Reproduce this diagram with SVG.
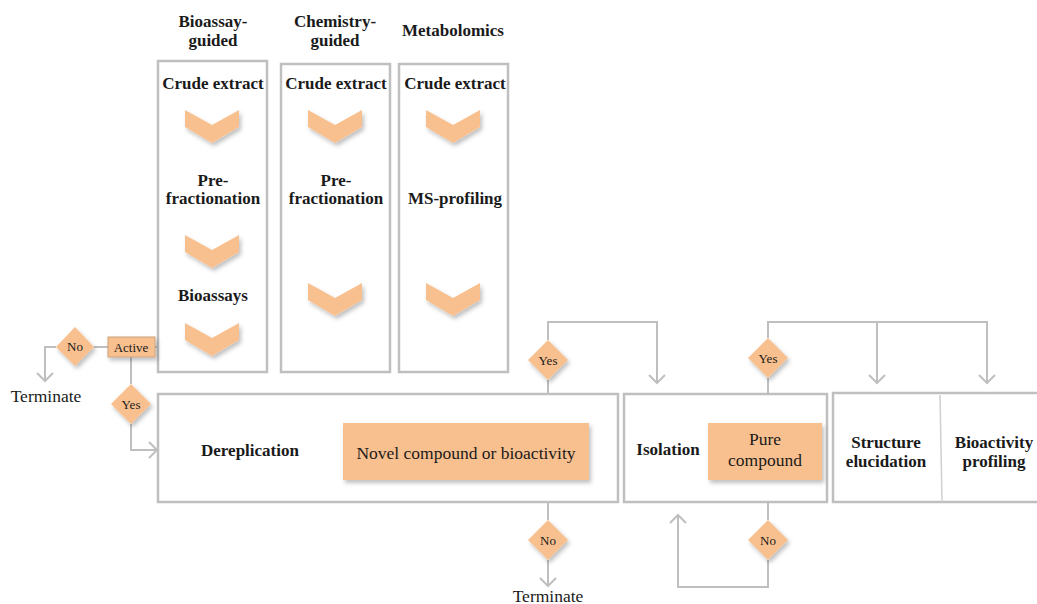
<svg xmlns="http://www.w3.org/2000/svg" width="1037" height="604" viewBox="0 0 1037 604">
<defs>
<style>
.box{fill:#fff;stroke:#BFBFBF;stroke-width:2.5}
.or{fill:#F9C08F}
.ln{fill:none;stroke:#BFBFBF;stroke-width:2}
.t{font-family:"Liberation Serif","Times New Roman",serif;fill:#1a1a1a;text-anchor:middle}
.b{font-weight:bold;font-size:17px}
.s{font-size:17.5px}
.xs{font-size:13px}
</style>
<filter id="sh" x="-20%" y="-20%" width="150%" height="160%">
<feDropShadow dx="2" dy="3" stdDeviation="2" flood-color="#000" flood-opacity="0.25"/>
</filter>
<marker id="ar" markerWidth="20" markerHeight="20" refX="10" refY="10" orient="auto" markerUnits="userSpaceOnUse">
<polyline points="2,2 10,10 2,18" fill="none" stroke="#BFBFBF" stroke-width="2"/>
</marker>
<path id="chev" d="M-27,-16 L0,-1 L27,-16 L27,1 L0,17 L-27,1 Z"/>
</defs>

<g id="headers">
<text class="t b" x="213" y="27">Bioassay-</text>
<text class="t b" x="213" y="46">guided</text>
<text class="t b" x="335" y="27">Chemistry-</text>
<text class="t b" x="335" y="46">guided</text>
<text class="t b" x="453" y="36">Metabolomics</text>
</g>

<g id="col-bioassay">
<rect class="box" x="158" y="61" width="109" height="311"/>
<text class="t b" x="213" y="89">Crude extract</text>
<use href="#chev" x="212" y="126" class="or" filter="url(#sh)"/>
<text class="t b" x="213" y="186">Pre-</text>
<text class="t b" x="213" y="204">fractionation</text>
<use href="#chev" x="212" y="251" class="or" filter="url(#sh)"/>
<text class="t b" x="213" y="301">Bioassays</text>
<use href="#chev" x="212" y="339" class="or" filter="url(#sh)"/>
</g>

<g id="col-chemistry">
<rect class="box" x="281" y="64" width="109" height="308"/>
<text class="t b" x="336" y="89">Crude extract</text>
<use href="#chev" x="335" y="126" class="or" filter="url(#sh)"/>
<text class="t b" x="336" y="186">Pre-</text>
<text class="t b" x="336" y="204">fractionation</text>
<use href="#chev" x="335" y="299" class="or" filter="url(#sh)"/>
</g>

<g id="col-metabolomics">
<rect class="box" x="399" y="64" width="109" height="308"/>
<text class="t b" x="455" y="89">Crude extract</text>
<use href="#chev" x="453" y="126" class="or" filter="url(#sh)"/>
<text class="t b" x="455" y="204">MS-profiling</text>
<use href="#chev" x="453" y="299" class="or" filter="url(#sh)"/>
</g>

<g id="connectors">
<line class="ln" x1="155" y1="347" x2="158" y2="347"/>
<polyline class="ln" points="108,347 94,347"/>
<polyline class="ln" points="56,347 45,347 45,381" marker-end="url(#ar)"/>
<polyline class="ln" points="131,357 131,384"/>
<polyline class="ln" points="131,424 131,450 157,450" marker-end="url(#ar)"/>
<polyline class="ln" points="548,394 548,380"/>
<polyline class="ln" points="548,340 548,322 657,322 657,383" marker-end="url(#ar)"/>
<polyline class="ln" points="768,394 768,378"/>
<polyline class="ln" points="768,338 768,322 987,322 987,383" marker-end="url(#ar)"/>
<polyline class="ln" points="877,322 877,383" marker-end="url(#ar)"/>
<polyline class="ln" points="548,502 548,520"/>
<polyline class="ln" points="548,560 548,586" marker-end="url(#ar)"/>
<polyline class="ln" points="768,502 768,520"/>
<polyline class="ln" points="768,560 768,587 678,587 678,515" marker-end="url(#ar)"/>
</g>

<g id="active">
<rect x="108" y="337" width="47" height="20" class="or" stroke="#C9A27E" stroke-width="1" filter="url(#sh)"/>
<text class="t xs" x="131" y="351.5">Active</text>
</g>

<g id="no-active">
<polygon points="75,327 94,347 75,366 56,347" class="or" filter="url(#sh)"/>
<text class="t xs" x="75" y="351">No</text>
</g>

<g id="terminate-1">
<text class="t s" x="46" y="402">Terminate</text>
</g>

<g id="yes-active">
<polygon points="131,384 151,404 131,424 111,404" class="or" filter="url(#sh)"/>
<text class="t xs" x="131" y="408.5">Yes</text>
</g>

<g id="dereplication">
<rect class="box" x="158" y="394" width="460" height="108"/>
<text class="t b" x="250" y="456">Dereplication</text>
<rect x="343" y="423" width="246" height="57" class="or" filter="url(#sh)"/>
<text class="t s" x="466" y="459">Novel compound or bioactivity</text>
</g>

<g id="yes-derep">
<polygon points="548,340 568,360 548,380 528,360" class="or" filter="url(#sh)"/>
<text class="t xs" x="548" y="364.5">Yes</text>
</g>

<g id="no-derep">
<polygon points="548,520 568,540 548,560 528,540" class="or" filter="url(#sh)"/>
<text class="t xs" x="548" y="544.5">No</text>
</g>

<g id="terminate-2">
<text class="t s" x="548" y="602">Terminate</text>
</g>

<g id="isolation">
<rect class="box" x="624" y="394" width="203" height="108"/>
<text class="t b" x="668" y="455">Isolation</text>
<rect x="708" y="423" width="114" height="57" class="or" filter="url(#sh)"/>
<text class="t s" x="765" y="445">Pure</text>
<text class="t s" x="765" y="466">compound</text>
</g>

<g id="yes-iso">
<polygon points="768,338 788,358 768,378 748,358" class="or" filter="url(#sh)"/>
<text class="t xs" x="768" y="362.5">Yes</text>
</g>

<g id="no-iso">
<polygon points="768,520 788,540 768,560 748,540" class="or" filter="url(#sh)"/>
<text class="t xs" x="768" y="544.5">No</text>
</g>

<g id="final">
<rect class="box" x="833" y="393" width="210" height="109"/>
<line x1="940" y1="395" x2="942" y2="502" stroke="#D0D0D0" stroke-width="1.5"/>
<text class="t b" x="886" y="448">Structure</text>
<text class="t b" x="886" y="467">elucidation</text>
<text class="t b" x="994" y="448">Bioactivity</text>
<text class="t b" x="994" y="467">profiling</text>
</g>
</svg>
